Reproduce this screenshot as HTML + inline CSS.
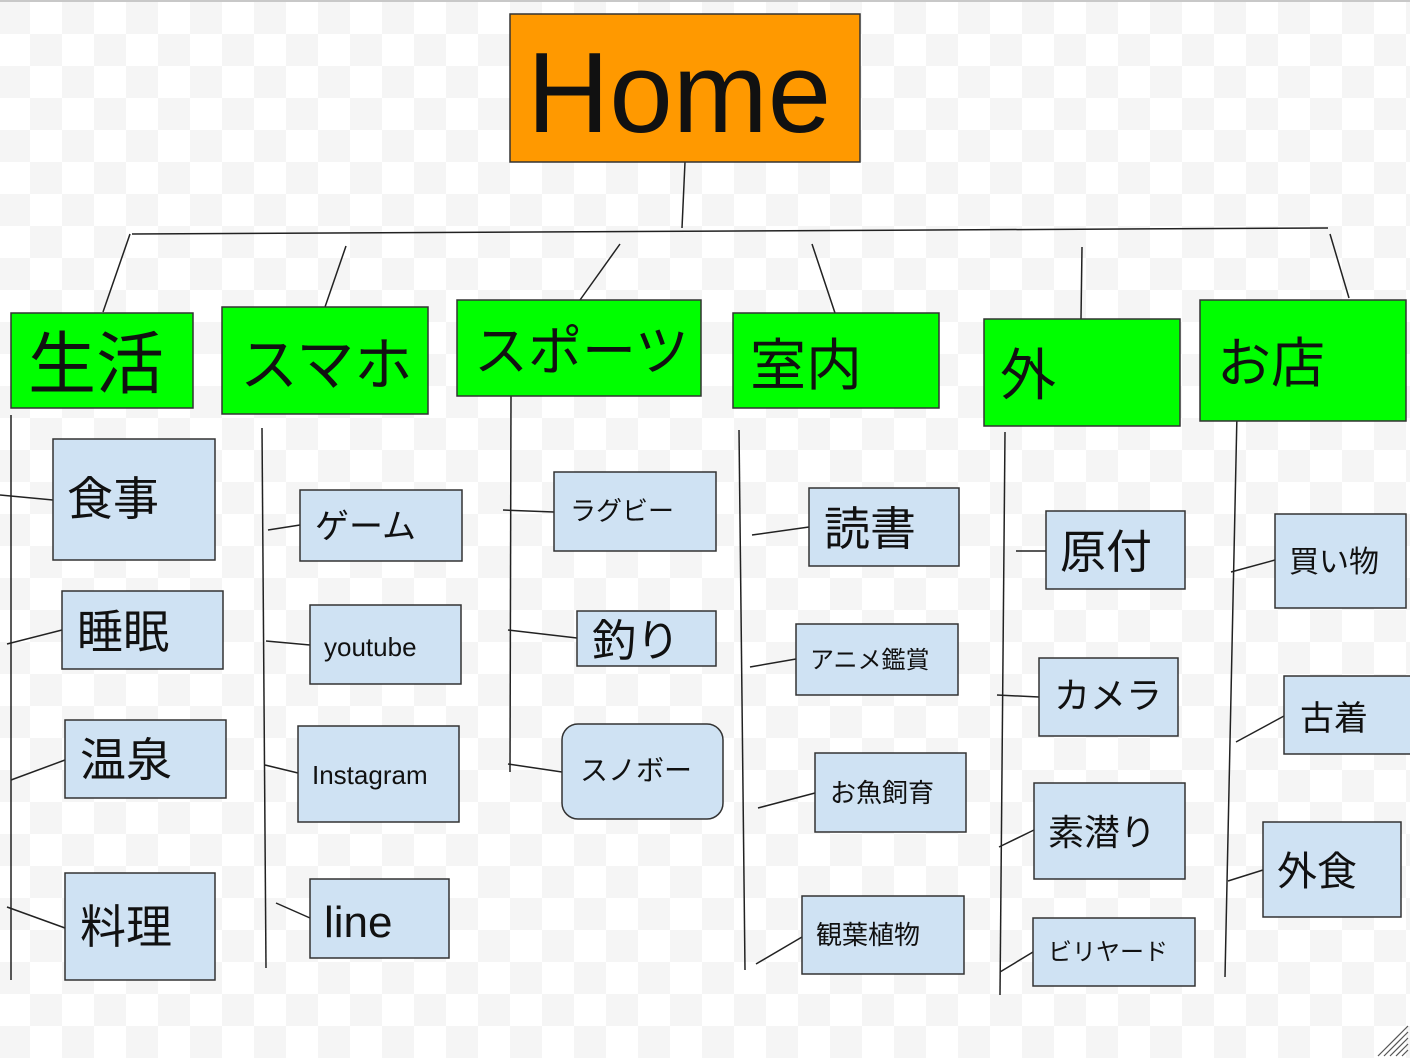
<!DOCTYPE html>
<html><head><meta charset="utf-8"><style>
html,body{margin:0;padding:0;width:1410px;height:1058px;overflow:hidden;background:#fff}
svg{display:block}
text{font-family:"Liberation Sans","Noto Sans CJK JP",sans-serif;fill:#111}
</style></head><body>
<svg width="1410" height="1058" viewBox="0 0 1410 1058" xmlns="http://www.w3.org/2000/svg">
<defs>
<pattern id="ck" x="-2" y="2" width="64" height="64" patternUnits="userSpaceOnUse">
<rect width="64" height="64" fill="#fff"/>
<rect x="0" y="0" width="32" height="32" fill="#f5f5f5"/>
<rect x="32" y="32" width="32" height="32" fill="#f5f5f5"/>
</pattern>
</defs>
<rect width="1410" height="1058" fill="url(#ck)"/>
<rect x="0" y="0" width="1410" height="2" fill="#c8c8c8"/>
<g stroke="#222" stroke-width="1.5" fill="none">
<line x1="685" y1="162" x2="682" y2="228"/>
<line x1="132" y1="234" x2="1328" y2="228"/>
<line x1="130" y1="234" x2="103" y2="312"/>
<line x1="346" y1="246" x2="325" y2="307"/>
<line x1="620" y1="244" x2="580" y2="300"/>
<line x1="812" y1="244" x2="835" y2="313"/>
<line x1="1082" y1="247" x2="1081" y2="319"/>
<line x1="1330" y1="234" x2="1349" y2="298"/>
<line x1="11" y1="415" x2="11" y2="980"/>
<line x1="262" y1="428" x2="266" y2="968"/>
<line x1="511" y1="396" x2="510" y2="772"/>
<line x1="739" y1="430" x2="745" y2="970"/>
<line x1="1005" y1="432" x2="1000" y2="995"/>
<line x1="1237" y1="413" x2="1225" y2="977"/>
<line x1="0" y1="495" x2="53" y2="500"/>
<line x1="7" y1="644" x2="62" y2="630"/>
<line x1="11" y1="780" x2="65" y2="760"/>
<line x1="7" y1="907" x2="65" y2="928"/>
<line x1="268" y1="530" x2="300" y2="525"/>
<line x1="266" y1="641" x2="310" y2="645"/>
<line x1="265" y1="765" x2="298" y2="773"/>
<line x1="276" y1="903" x2="310" y2="918"/>
<line x1="503" y1="510" x2="554" y2="512"/>
<line x1="508" y1="630" x2="577" y2="638"/>
<line x1="508" y1="764" x2="562" y2="772"/>
<line x1="752" y1="535" x2="809" y2="527"/>
<line x1="750" y1="667" x2="796" y2="659"/>
<line x1="758" y1="808" x2="815" y2="793"/>
<line x1="756" y1="964" x2="802" y2="937"/>
<line x1="1016" y1="551" x2="1046" y2="551"/>
<line x1="997" y1="695" x2="1039" y2="697"/>
<line x1="999" y1="847" x2="1034" y2="830"/>
<line x1="1000" y1="972" x2="1033" y2="952"/>
<line x1="1231" y1="572" x2="1275" y2="560"/>
<line x1="1236" y1="742" x2="1284" y2="716"/>
<line x1="1228" y1="881" x2="1263" y2="870"/>
</g>
<rect x="510" y="14" width="350" height="148" fill="#ff9900" stroke="#333" stroke-width="1.5"/>
<text x="527" y="132" font-size="114">Home</text>
<g fill="#00ff00" stroke="#333" stroke-width="1.5">
<rect x="11" y="313" width="182" height="95"/>
<rect x="222" y="307" width="206" height="107"/>
<rect x="457" y="300" width="244" height="96"/>
<rect x="733" y="313" width="206" height="95"/>
<rect x="984" y="319" width="196" height="107"/>
<rect x="1200" y="300" width="206" height="121"/>
</g>
<text x="28" y="388" font-size="68">生活</text>
<text x="240" y="385" font-size="58">スマホ</text>
<text x="474" y="370" font-size="54">スポーツ</text>
<text x="750" y="385" font-size="56">室内</text>
<text x="1000" y="395" font-size="56">外</text>
<text x="1217" y="382" font-size="54">お店</text>
<g fill="#cfe2f3" stroke="#333" stroke-width="1.5">
<rect x="53" y="439" width="162" height="121"/>
<rect x="62" y="591" width="161" height="78"/>
<rect x="65" y="720" width="161" height="78"/>
<rect x="65" y="873" width="150" height="107"/>
<rect x="300" y="490" width="162" height="71"/>
<rect x="310" y="605" width="151" height="79"/>
<rect x="298" y="726" width="161" height="96"/>
<rect x="310" y="879" width="139" height="79"/>
<rect x="554" y="472" width="162" height="79"/>
<rect x="577" y="611" width="139" height="55"/>
<rect x="562" y="724" width="161" height="95" rx="16"/>
<rect x="809" y="488" width="150" height="78"/>
<rect x="796" y="624" width="162" height="71"/>
<rect x="815" y="753" width="151" height="79"/>
<rect x="802" y="896" width="162" height="78"/>
<rect x="1046" y="511" width="139" height="78"/>
<rect x="1039" y="658" width="139" height="78"/>
<rect x="1034" y="783" width="151" height="96"/>
<rect x="1033" y="918" width="162" height="68"/>
<rect x="1275" y="514" width="131" height="94"/>
<rect x="1284" y="676" width="130" height="78"/>
<rect x="1263" y="822" width="138" height="95"/>
</g>
<text x="67" y="515" font-size="46">食事</text>
<text x="77" y="648" font-size="46">睡眠</text>
<text x="80" y="776" font-size="46">温泉</text>
<text x="80" y="943" font-size="46">料理</text>
<text x="315" y="538" font-size="34">ゲーム</text>
<text x="324" y="656" font-size="26">youtube</text>
<text x="312" y="784" font-size="26">Instagram</text>
<text x="324" y="937" font-size="44">line</text>
<text x="570" y="520" font-size="26">ラグビー</text>
<text x="592" y="656" font-size="44">釣り</text>
<text x="580" y="780" font-size="28">スノボー</text>
<text x="824" y="545" font-size="46">読書</text>
<text x="810" y="668" font-size="24">アニメ鑑賞</text>
<text x="830" y="802" font-size="26">お魚飼育</text>
<text x="816" y="944" font-size="26">観葉植物</text>
<text x="1060" y="568" font-size="46">原付</text>
<text x="1054" y="708" font-size="36">カメラ</text>
<text x="1048" y="845" font-size="36">素潜り</text>
<text x="1048" y="960" font-size="24">ビリヤード</text>
<text x="1289" y="572" font-size="30">買い物</text>
<text x="1300" y="730" font-size="34">古着</text>
<text x="1277" y="885" font-size="40">外食</text>
<g stroke="#555" stroke-width="1.2">
<line x1="1378" y1="1056" x2="1408" y2="1026"/>
<line x1="1384" y1="1056" x2="1408" y2="1032"/>
<line x1="1390" y1="1056" x2="1408" y2="1038"/>
<line x1="1396" y1="1056" x2="1408" y2="1044"/>
<line x1="1402" y1="1056" x2="1408" y2="1050"/>
</g>
</svg>
</body></html>
